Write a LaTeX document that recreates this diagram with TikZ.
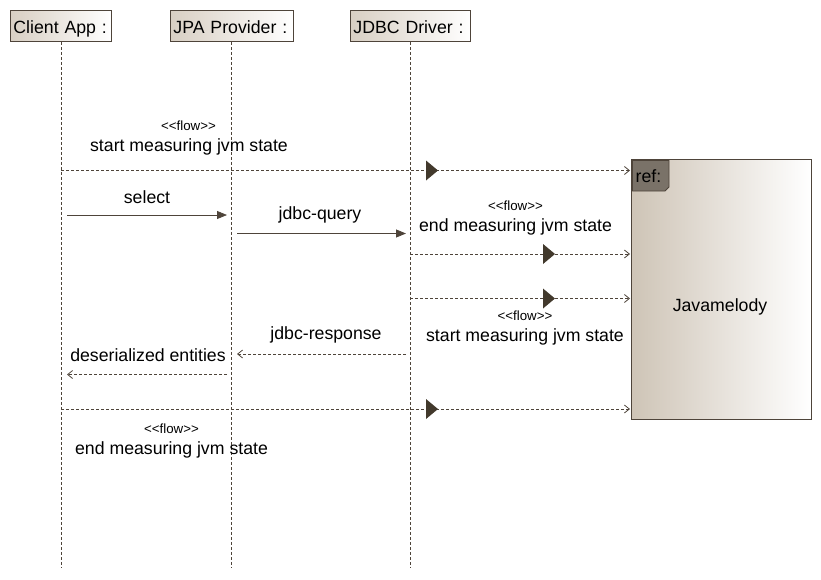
\documentclass[tikz,border=0pt]{standalone}
\usepackage{fontspec}
\setmainfont{Liberation Sans}
\usetikzlibrary{arrows.meta}
\definecolor{linec}{HTML}{4E443A}
\definecolor{tri}{HTML}{42392C}
\definecolor{shadeL}{HTML}{CEC4B6}
\definecolor{headL}{HTML}{D8CFC3}
\definecolor{tabc}{HTML}{7A7268}
\begin{document}
\begin{tikzpicture}[x=1pt,y=-1pt,
  every node/.style={font=\fontsize{17.7}{20}\selectfont, inner sep=0pt},
  headbox/.style={draw=linec, line width=0.9pt, left color=headL, right color=white,
    minimum height=31pt, inner xsep=3pt, text height=15.5pt, text depth=0.5pt, align=left, anchor=north west},
  lifeline/.style={draw=linec, line width=0.8pt, dash pattern=on 3pt off 2pt},
  call/.style={draw=linec, line width=0.8pt, -{Triangle[length=10pt,width=8pt]}},
  reply/.style={draw=linec, line width=0.8pt, dash pattern=on 3pt off 2pt, -{Straight Barb[length=5pt,width=8pt]}},
  flow/.style={draw=linec, line width=0.8pt, dash pattern=on 3pt off 2pt, -{Straight Barb[length=5pt,width=8pt]}},
  midtri/.style={fill=tri, draw=none},
  stereo/.style={font=\fontsize{13.3}{15}\selectfont, yshift=-1.5pt},
  lbl/.style={font=\fontsize{17.7}{20}\selectfont, yshift=-2pt}
]
\useasboundingbox (0,0) rectangle (821,579);

% heads
\node[headbox, text width=95pt] (client) at (10,10) {Client App :};
\node[headbox, text width=116.7pt] (jpa) at (170,10) {JPA Provider :};
\node[headbox, text width=114pt] (jdbc) at (350,10) {JDBC Driver :};

\coordinate (clientend) at (client.south |- 0,568);
\coordinate (jpaend) at (jpa.south |- 0,568);
\coordinate (jdbcend) at (jdbc.south |- 0,568);
\draw[lifeline] (client.south) -- (clientend);
\draw[lifeline] (jpa.south) -- (jpaend);
\draw[lifeline] (jdbc.south) -- (jdbcend);

% Javamelody
\node[draw=linec, line width=1pt, left color=shadeL, right color=white,
  minimum width=180pt, minimum height=260pt, anchor=north west] (jm) at (630.5,158.5) {};
\node[lbl] (jmtext) at (720,305) {Javamelody};
\draw[draw=linec, line width=0.8pt, fill=tabc] (632.5,160.5) -- (669,160.5) -- (669,187) -- (665,191) -- (632.5,191) -- cycle;
\node (ref) at (648.5,176) {ref:};

% message end coordinates
\coordinate (m1s) at (61,170.5);
\coordinate (m1e) at (630,170.5);
\coordinate (m2s) at (67,215);
\coordinate (m2e) at (227,215);
\coordinate (m3s) at (237,233.5);
\coordinate (m3e) at (406,233.5);
\coordinate (m4s) at (410,254);
\coordinate (m4e) at (630,254);
\coordinate (m5s) at (410,298.5);
\coordinate (m5e) at (630,298.5);
\coordinate (m6s) at (406,354);
\coordinate (m6e) at (237,354);
\coordinate (m7s) at (227,374.5);
\coordinate (m7e) at (67,374.5);
\coordinate (m8s) at (61,409);
\coordinate (m8e) at (630,409);

% messages
\draw[flow] (m1s) -- (m1e);
\fill[midtri] (426,160.5) -- (438,170.5) -- (426,180.5) -- cycle;
\node[stereo] (f1s) at (188.5,124) {<{}<flow>{}>};
\node[lbl] (f1l) at (189,145) {start measuring jvm state};

\draw[call] (m2s) -- (m2e);
\node[lbl] (l2) at (147,195) {select};

\draw[call] (m3s) -- (m3e);
\node[lbl] (l3) at (320,213) {jdbc-query};

\draw[flow] (m4s) -- (m4e);
\fill[midtri] (543,244) -- (555,254) -- (543,264) -- cycle;
\node[stereo] (f4s) at (515.5,204) {<{}<flow>{}>};
\node[lbl] (f4l) at (515.5,225) {end measuring jvm state};

\draw[flow] (m5s) -- (m5e);
\fill[midtri] (543,288.5) -- (555,298.5) -- (543,308.5) -- cycle;
\node[stereo] (f5s) at (525,314) {<{}<flow>{}>};
\node[lbl] (f5l) at (525,335) {start measuring jvm state};

\draw[reply] (m6s) -- (m6e);
\node[lbl] (l6) at (326,333) {jdbc-response};

\draw[reply] (m7s) -- (m7e);
\node[lbl] (l7) at (148,353) {deserialized entities};

\draw[flow] (m8s) -- (m8e);
\fill[midtri] (426,399) -- (438,409) -- (426,419) -- cycle;
\node[stereo] (f8s) at (171.5,427) {<{}<flow>{}>};
\node[lbl] (f8l) at (171.5,448) {end measuring jvm state};
\end{tikzpicture}
\end{document}
